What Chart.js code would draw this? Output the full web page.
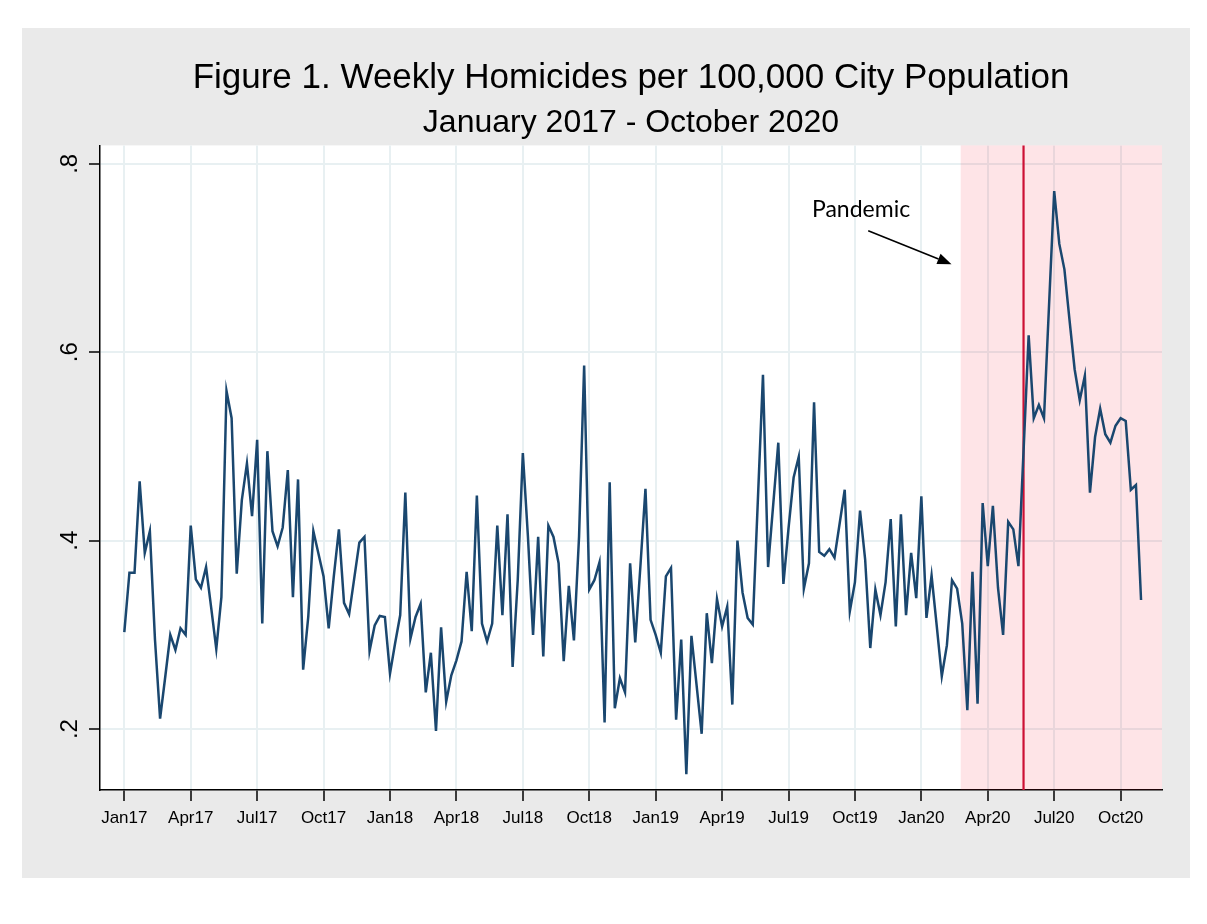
<!DOCTYPE html>
<html><head><meta charset="utf-8">
<script src="https://cdn.jsdelivr.net/npm/chart.js@4.4.1/dist/chart.umd.min.js"></script>
<style>html,body{margin:0;padding:0;background:#fff;}canvas{display:block;}</style>
</head><body>
<canvas id="c" width="1207" height="924"></canvas>
<script>
// ---- data (weekly homicides per 100,000 city population) ----
const quarterLabels = ["Jan17","Apr17","Jul17","Oct17","Jan18","Apr18","Jul18","Oct18",
  "Jan19","Apr19","Jul19","Oct19","Jan20","Apr20","Jul20","Oct20"];
const yTickValues = [0.2, 0.4, 0.6, 0.8];
const yTickLabels = [".2", ".4", ".6", ".8"];

const weeks2017 = [0.303,0.366,0.366,0.463,0.387,0.410,0.295,0.211,0.255,0.300,0.284,0.307,0.300,
  0.416,0.359,0.350,0.372,0.329,0.285,0.340,0.559,0.530,0.365,0.443,0.482,0.426,
  0.507,0.312,0.495,0.410,0.394,0.414,0.475,0.340,0.465,0.263,0.319,0.410,0.386,
  0.362,0.307,0.362,0.412,0.334,0.322,0.360,0.398,0.404,0.283,0.310,0.320,0.319];
const weeks2018 = [0.259,0.291,0.321,0.451,0.296,0.319,0.333,0.239,0.281,0.198,0.308,0.229,0.257,
  0.273,0.293,0.367,0.304,0.448,0.312,0.293,0.312,0.416,0.321,0.428,0.266,0.358,
  0.493,0.404,0.300,0.404,0.277,0.416,0.404,0.376,0.272,0.352,0.294,0.404,0.586,
  0.348,0.358,0.377,0.207,0.462,0.222,0.254,0.239,0.376,0.292,0.372,0.455,0.316];
const weeks2019 = [0.300,0.281,0.362,0.371,0.210,0.295,0.152,0.299,0.247,0.195,0.323,0.270,0.338,
  0.309,0.330,0.226,0.400,0.345,0.318,0.311,0.443,0.576,0.372,0.438,0.504,0.354,
  0.413,0.467,0.489,0.349,0.376,0.547,0.388,0.384,0.391,0.382,0.418,0.454,0.325,
  0.356,0.432,0.380,0.286,0.348,0.321,0.356,0.423,0.309,0.428,0.321,0.387,0.339];
const weeks2020 = [0.447,0.318,0.363,0.310,0.256,0.289,0.358,0.349,0.312,0.220,0.367,0.227,0.440,
  0.373,0.437,0.350,0.300,0.420,0.412,0.373,0.495,0.618,0.530,0.544,0.530,0.651,
  0.771,0.715,0.688,0.634,0.582,0.549,0.575,0.451,0.510,0.540,0.513,0.504,0.522,
  0.530,0.527,0.454,0.459,0.337];

const values = [...weeks2017, ...weeks2018, ...weeks2019, ...weeks2020];
const weekIndex = values.map((_, i) => i);          // week number since Jan 2017
const pandemicStartWeek = 163.7;                    // start of shaded pandemic period
const eventWeek = 176;                              // red vertical line
const annotationText = "Pandemic";
const annotationTextAt = [144.2, 0.751];
const arrowFrom = [145.6, 0.729];
const arrowTo = [161.9, 0.6935];

const FONT = "'Liberation Sans', Arial, Helvetica, sans-serif";

const bgPlugin = {
  id: 'bg',
  beforeDraw(chart) {
    const ctx = chart.ctx, a = chart.chartArea;
    ctx.save();
    ctx.fillStyle = '#ffffff';
    ctx.fillRect(0, 0, chart.width, chart.height);
    ctx.fillStyle = '#eaeaea';
    ctx.fillRect(22, 28, 1168, 850);
    ctx.fillStyle = '#ffffff';
    ctx.fillRect(a.left, a.top, a.right - a.left, a.bottom - a.top);
    ctx.restore();
  },
  beforeDatasetsDraw(chart) {
    const ctx = chart.ctx, a = chart.chartArea, xs = chart.scales.x;
    ctx.save();
    const px = xs.getPixelForValue(pandemicStartWeek);
    ctx.fillStyle = 'rgba(250,30,60,0.12)';
    ctx.fillRect(px, a.top, a.right - px, a.bottom - a.top);
    const ex = xs.getPixelForValue(eventWeek);
    ctx.strokeStyle = '#cc1035';
    ctx.lineWidth = 2.2;
    ctx.beginPath();
    ctx.moveTo(ex, a.top);
    ctx.lineTo(ex, a.bottom);
    ctx.stroke();
    ctx.restore();
  },
  afterDraw(chart) {
    const ctx = chart.ctx, xs = chart.scales.x, ys = chart.scales.y;
    ctx.save();
    ctx.fillStyle = '#000';
    ctx.font = "23px Lato, 'Open Sans', sans-serif";
    ctx.textAlign = 'center';
    ctx.textBaseline = 'middle';
    ctx.fillText(annotationText, xs.getPixelForValue(annotationTextAt[0]), ys.getPixelForValue(annotationTextAt[1]));
    const x1 = xs.getPixelForValue(arrowFrom[0]), y1 = ys.getPixelForValue(arrowFrom[1]);
    const x2 = xs.getPixelForValue(arrowTo[0]), y2 = ys.getPixelForValue(arrowTo[1]);
    const ang = Math.atan2(y2 - y1, x2 - x1);
    const L = 14, W = 5.5;
    ctx.strokeStyle = '#000';
    ctx.lineWidth = 1.6;
    ctx.beginPath();
    ctx.moveTo(x1, y1);
    ctx.lineTo(x2 - L * Math.cos(ang), y2 - L * Math.sin(ang));
    ctx.stroke();
    ctx.beginPath();
    ctx.moveTo(x2, y2);
    ctx.lineTo(x2 - L * Math.cos(ang) + W * Math.sin(ang), y2 - L * Math.sin(ang) - W * Math.cos(ang));
    ctx.lineTo(x2 - L * Math.cos(ang) - W * Math.sin(ang), y2 - L * Math.sin(ang) + W * Math.cos(ang));
    ctx.closePath();
    ctx.fill();
    ctx.restore();
  }
};

new Chart(document.getElementById('c'), {
  type: 'line',
  data: {
    datasets: [{
      data: weekIndex.map((w, i) => ({ x: w, y: values[i] })),
      borderColor: '#1a476f',
      borderWidth: 2.5,
      pointRadius: 0,
      tension: 0,
      fill: false
    }]
  },
  options: {
    responsive: false,
    animation: false,
    devicePixelRatio: 1,
    layout: { padding: { left: 0, right: 45, top: 0, bottom: 84 } },
    plugins: {
      legend: { display: false },
      tooltip: { enabled: false },
      title: {
        display: true, fullSize: false,
        text: 'Figure 1. Weekly Homicides per 100,000 City Population',
        color: '#000', font: { family: FONT, size: 35, weight: 'normal', lineHeight: 1.2 },
        padding: { top: 57, bottom: 0 }
      },
      subtitle: {
        display: true, fullSize: false,
        text: 'January 2017 - October 2020',
        color: '#000', font: { family: FONT, size: 32, weight: 'normal', lineHeight: 1.2 },
        padding: { top: 5, bottom: 3 }
      }
    },
    scales: {
      x: {
        type: 'linear',
        min: -4.76, max: 203.1,
        afterBuildTicks(scale) {
          scale.ticks = quarterLabels.map((_, q) => ({ value: q * 13 }));
        },
        afterFit(scale) { scale.height = 50; },
        ticks: {
          autoSkip: false, maxRotation: 0, minRotation: 0,
          color: '#000', font: { family: FONT, size: 17 }, padding: 7,
          callback: (v) => quarterLabels[Math.round(v / 13)]
        },
        grid: { color: '#e8f0f2', lineWidth: 2, tickColor: '#000', tickWidth: 1.5, tickLength: 11 },
        border: { display: true, color: '#000', width: 1.5 }
      },
      y: {
        type: 'linear',
        min: 0.1353, max: 0.8196,
        afterBuildTicks(scale) {
          scale.ticks = yTickValues.map(v => ({ value: v }));
        },
        afterFit(scale) { scale.width = 100; },
        ticks: {
          minRotation: 90, maxRotation: 90, crossAlign: 'center',
          color: '#000', font: { family: FONT, size: 24 }, padding: 9,
          callback: (v) => yTickLabels[yTickValues.findIndex(t => Math.abs(t - v) < 1e-6)]
        },
        grid: { color: '#e8f0f2', lineWidth: 2, tickColor: '#000', tickWidth: 1.5, tickLength: 11 },
        border: { display: true, color: '#000', width: 1.5 }
      }
    }
  },
  plugins: [bgPlugin]
});
</script>
</body></html>
